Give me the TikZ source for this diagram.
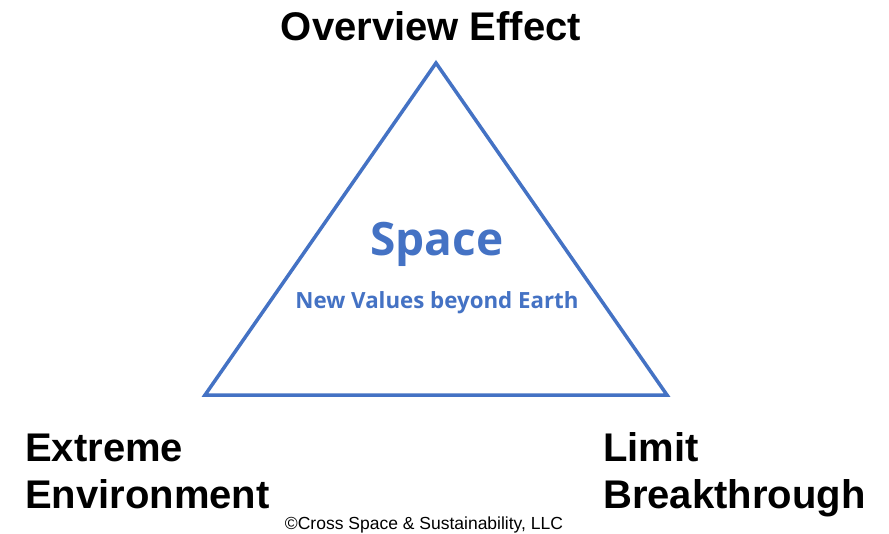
\documentclass[tikz,border=0pt]{standalone}
\usepackage{fontspec}
\setmainfont{Liberation Sans}
\newfontfamily\opensans{Open Sans}
\definecolor{azul}{HTML}{4472C4}
\tikzset{
    etiqueta/.style={font=\fontsize{40}{47}\selectfont\bfseries, inner sep=0pt, align=left},
    centro/.style={text=azul, inner sep=0pt},
}
\begin{document}
\begin{tikzpicture}[x=1pt, y=-1pt]
    \useasboundingbox[fill=white] (0,0) rectangle (889,533);

    % Vértices del triángulo
    \coordinate (arriba) at (436, 63);
    \coordinate (izq) at (205, 395);
    \coordinate (der) at (667, 395);
    \draw[azul, line width=3.5pt, line join=miter] (arriba) -- (der) -- (izq) -- cycle;

    % Texto central
    \node[centro, anchor=base, font=\opensans\bfseries\fontsize{46}{50}\selectfont] (espacio) at (437, 255) {Space};
    \node[centro, anchor=base, font=\opensans\bfseries\fontsize{22.3}{25}\selectfont] (valores) at (437, 308) {New Values beyond Earth};

    % Etiquetas de los vértices
    \node[etiqueta, anchor=base] (overview) at (431, 40) {Overview Effect};
    \node[etiqueta, anchor=base west] (extremo) at (25, 508) {Extreme\\Environment};
    \node[etiqueta, anchor=base west] (limite) at (603, 508) {Limit\\Breakthrough};

    % Copyright
    \node[inner sep=0pt, anchor=base, font=\fontsize{17.5}{20}\selectfont] (copy) at (424, 529) {\textcopyright Cross Space \& Sustainability, LLC};
\end{tikzpicture}
\end{document}
